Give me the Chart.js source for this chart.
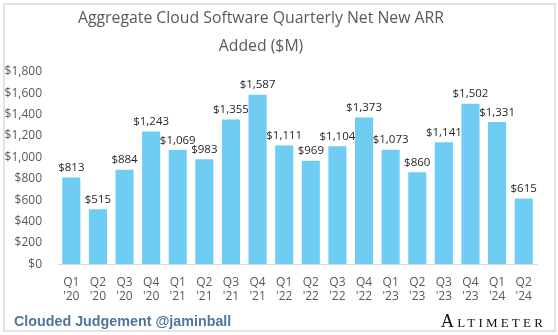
<!DOCTYPE html>
<html lang="en">
<head>
    <meta charset="UTF-8">
    <title>Net New ARR</title>
    <script src="https://cdn.jsdelivr.net/npm/chart.js"></script>
    <style>
        body {
            margin: 0;
            background: white;
            font-family: 'Open Sans', sans-serif;
        }

        .frame {
            position: relative;
            width: 558px;
            height: 335px;
        }

        .border {
            position: absolute;
            left: 3px;
            top: 3px;
            width: 549px;
            height: 325px;
            border: 2px solid #e3e3e3;
            pointer-events: none;
        }

        canvas {
            position: absolute;
            left: 0;
            top: 0;
        }

        .title {
            position: absolute;
            left: 0;
            width: 522px;
            top: 3px;
            text-align: center;
            font-size: 15.8px;
            line-height: 28px;
            color: #595959;
        }

        .credit {
            position: absolute;
            left: 14px;
            top: 313px;
            font-family: 'Liberation Sans', Arial, sans-serif;
            font-weight: bold;
            font-size: 14.3px;
            color: #51749a;
        }

        .brand {
            position: absolute;
            right: 12px;
            top: 311px;
            font-family: 'Liberation Serif', serif;
            font-size: 18.5px;
            font-variant: small-caps;
            letter-spacing: 3.2px;
            color: #111;
        }
    </style>
</head>
<body>

    <div class="frame">
        <canvas id="arrChart" width="558" height="335"></canvas>
        <div class="border"></div>
        <div class="title">Aggregate Cloud Software Quarterly Net New ARR<br>Added ($M)</div>
        <div class="credit">Clouded Judgement @jaminball</div>
        <div class="brand">Altimeter</div>
    </div>

    <script>
        const quarters = ["Q1", "Q2", "Q3", "Q4", "Q1", "Q2", "Q3", "Q4", "Q1", "Q2", "Q3", "Q4", "Q1", "Q2", "Q3", "Q4", "Q1", "Q2"];
        const years = ["'20", "'20", "'20", "'20", "'21", "'21", "'21", "'21", "'22", "'22", "'22", "'22", "'23", "'23", "'23", "'23", "'24", "'24"];
        const netNewArr = [813, 515, 884, 1243, 1069, 983, 1355, 1587, 1111, 969, 1104, 1373, 1073, 860, 1141, 1502, 1331, 615];

        const money = v => "$" + v.toLocaleString("en-US");

        // value labels above each bar
        const barLabels = {
            id: "barLabels",
            afterDatasetsDraw(chart) {
                const ctx = chart.ctx;
                const meta = chart.getDatasetMeta(0);
                ctx.save();
                ctx.font = "11.5px 'Open Sans', sans-serif";
                ctx.fillStyle = "#262626";
                ctx.textAlign = "center";
                ctx.textBaseline = "bottom";
                meta.data.forEach((bar, i) => {
                    ctx.fillText(money(netNewArr[i]), bar.x, bar.y - 4);
                });
                ctx.restore();
            }
        };

        new Chart(document.getElementById("arrChart"), {
            type: "bar",
            data: {
                labels: quarters.map((q, i) => [q, years[i]]),
                datasets: [{
                    data: netNewArr,
                    backgroundColor: "#6fcdf4",
                    categoryPercentage: 1,
                    barPercentage: 0.68
                }]
            },
            options: {
                responsive: false,
                animation: false,
                layout: {
                    padding: { left: 4, right: 21, top: 72, bottom: 20 }
                },
                plugins: {
                    legend: { display: false },
                    tooltip: { enabled: false }
                },
                scales: {
                    x: {
                        grid: { display: false, drawTicks: false },
                        border: { color: "#d9d9d9" },
                        ticks: {
                            color: "#595959",
                            padding: 11,
                            font: { family: "'Open Sans', sans-serif", size: 12 },
                            maxRotation: 0,
                            autoSkip: false
                        }
                    },
                    y: {
                        min: 0,
                        max: 1800,
                        grid: { display: false, drawTicks: false },
                        border: { display: false },
                        afterFit: scale => { scale.width = 54; },
                        ticks: {
                            stepSize: 200,
                            color: "#595959",
                            padding: 16,
                            font: { family: "'Open Sans', sans-serif", size: 12 },
                            callback: v => money(v)
                        }
                    }
                }
            },
            plugins: [barLabels]
        });
    </script>

</body>
</html>
